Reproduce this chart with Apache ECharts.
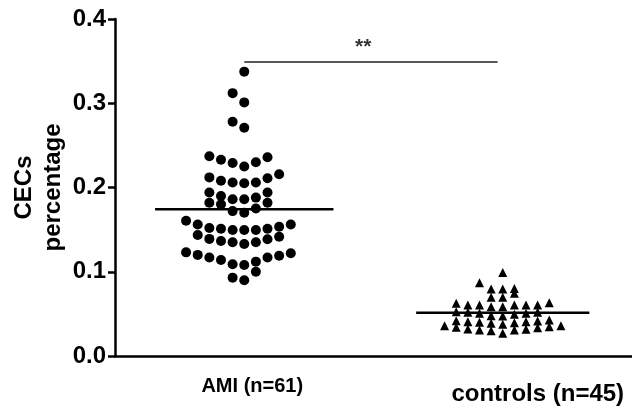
<!DOCTYPE html>
<html>
<head>
<meta charset="utf-8">
<script src="https://cdn.jsdelivr.net/npm/echarts@6/dist/echarts.min.js"></script>
<style>
    html, body { margin: 0; padding: 0; background: #fff; }
    #chart { width: 632px; height: 408px; }
</style>
</head>
<body>
<div id="chart"></div>
<script>
// 分组名称
const groups = ['AMI (n=61)', 'controls (n=45)'];
// AMI 组 CECs 百分比
const amiValues = [
    0.090, 0.093, 0.100,
    0.108, 0.109, 0.112, 0.114, 0.117, 0.117, 0.119, 0.120, 0.122, 0.123,
    0.133, 0.135, 0.135, 0.1365, 0.1385, 0.139, 0.1416, 0.1436,
    0.1495, 0.1495, 0.1495, 0.151, 0.151, 0.152, 0.1535, 0.156, 0.156, 0.1606,
    0.170, 0.172, 0.175, 0.180, 0.182, 0.182,
    0.186, 0.186, 0.188, 0.190, 0.194, 0.194,
    0.205, 0.206, 0.206, 0.208, 0.211, 0.212, 0.2157,
    0.225, 0.229, 0.230, 0.233, 0.236, 0.237,
    0.271, 0.278, 0.301, 0.312, 0.3375
];
// 对照组 CECs 百分比
const controlValues = [
    0.027, 0.030, 0.031, 0.031, 0.0317, 0.032, 0.0336, 0.034, 0.0348, 0.036, 0.036, 0.0376, 0.0388, 0.0395,
    0.040, 0.0407, 0.0407, 0.0415, 0.0419, 0.0427,
    0.0475, 0.0478, 0.0495, 0.0506, 0.0507, 0.0518, 0.0518, 0.0526,
    0.0585, 0.0585, 0.0605, 0.0605, 0.0605, 0.0605, 0.0605, 0.0625, 0.0633,
    0.0697, 0.0697, 0.0744, 0.0795, 0.0795, 0.080, 0.087, 0.099
];
// 纵轴刻度
const yTicks = [0.0, 0.1, 0.2, 0.3, 0.4];
// 显著性标记
const sigText = '**';
const sigLevel = 0.349;

/**
 *  散点分布 (beeswarm) - 按数值分行, 行内从中心向两侧交替排列
 *  @param { Array  }  values     数据
 *  @param { Number }  center     组中心位置
 *  @param { Number }  rowHeight  每行数值跨度
 *  @param { Number }  step       横向间距
 */
function swarm(values, center, rowHeight, step) {
    let sorted = values.slice().sort((a, b) => a - b);
    let out = [];
    let row = [];
    let start = null;
    const flush = () => {
        row.forEach((v, i) => {
            let k = Math.ceil(i / 2) * (i % 2 ? -1 : 1);
            out.push([center + k * step, v]);
        });
        row = [];
    };
    sorted.forEach(v => {
        if (start === null || v - start > rowHeight) { flush(); start = v; }
        row.push(v);
    });
    flush();
    return out;
}

const mean = arr => arr.reduce((s, v) => s + v, 0) / arr.length;

// 均值横线
function meanLine(values, center, half) {
    let m = mean(values);
    return [[center - half, m], [center + half, m]];
}

let chart = echarts.init(document.getElementById('chart'));
let option = {
    backgroundColor: '#fff',
    animation: false,
    grid: { left: 115, right: 0, top: 19, bottom: 52, outerBoundsMode: 'none' },
    xAxis: [{
        type: 'category',
        data: groups,
        boundaryGap: true,
        axisLine: { onZero: false, lineStyle: { color: '#000', width: 2.5 } },
        axisTick: { alignWithLabel: true, length: 7, lineStyle: { color: '#000', width: 2.5 } },
        axisLabel: {
            margin: 20,
            color: '#000',
            formatter: (v, i) => i === 0 ? '{a|' + v + '}' : '{b|' + v + '}',
            rich: {
                a: { fontFamily: 'Liberation Sans', fontWeight: 'bold', fontSize: 20, color: '#000', padding: [0, 0, 0, 16] },
                b: { fontFamily: 'Liberation Sans', fontWeight: 'bold', fontSize: 24, color: '#000', padding: [6, 0, 0, 70] }
            }
        }
    }, {
        type: 'value',
        min: -0.5,
        max: 1.5,
        show: false
    }],
    yAxis: {
        type: 'value',
        min: yTicks[0],
        max: yTicks[yTicks.length - 1],
        interval: 0.1,
        splitLine: { show: false },
        axisLine: { show: true, onZero: false, lineStyle: { color: '#000', width: 2.5 } },
        axisTick: { show: true, length: 7, lineStyle: { color: '#000', width: 2.5 } },
        axisLabel: {
            margin: 9,
            color: '#000',
            fontFamily: 'Liberation Sans',
            fontWeight: 'bold',
            fontSize: 24,
            formatter: v => v.toFixed(1)
        },
        name: 'CECs\npercentage',
        nameLocation: 'middle',
        nameGap: 47,
        nameMoveOverlap: false,
        nameTextStyle: {
            color: '#000',
            fontFamily: 'Liberation Sans',
            fontWeight: 'bold',
            fontSize: 24,
            lineHeight: 29,
            align: 'center'
        }
    },
    series: [
        {
            name: 'AMI',
            type: 'scatter',
            xAxisIndex: 1,
            symbol: 'circle',
            symbolSize: 10,
            itemStyle: { color: '#000', opacity: 1 },
            data: swarm(amiValues, 0, 0.0155, 0.045)
        },
        {
            name: 'controls',
            type: 'scatter',
            xAxisIndex: 1,
            symbol: 'triangle',
            symbolSize: 9,
            itemStyle: { color: '#000', opacity: 1 },
            data: swarm(controlValues, 1, 0.0095, 0.045)
        },
        {
            type: 'line',
            xAxisIndex: 1,
            symbol: 'none',
            lineStyle: { color: '#000', width: 2.5 },
            data: meanLine(amiValues, 0, 0.345),
            z: 3
        },
        {
            type: 'line',
            xAxisIndex: 1,
            symbol: 'none',
            lineStyle: { color: '#000', width: 2.5 },
            data: meanLine(controlValues, 1, 0.335),
            z: 3
        },
        // 显著性横线
        {
            type: 'line',
            xAxisIndex: 1,
            symbol: 'none',
            lineStyle: { color: '#222', width: 1.5 },
            data: [[0, sigLevel], [0.98, sigLevel]]
        },
        {
            type: 'scatter',
            xAxisIndex: 1,
            symbolSize: 0,
            silent: true,
            data: [[0.46, sigLevel]],
            label: {
                show: true,
                position: 'top',
                distance: 4,
                formatter: sigText,
                color: '#000',
                fontFamily: 'Liberation Sans',
                fontWeight: 'bold',
                fontSize: 21
            }
        }
    ]
};
chart.setOption(option);
</script>
</body>
</html>
